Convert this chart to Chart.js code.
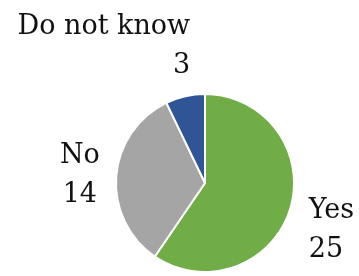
<!DOCTYPE html>
<html>
<head>
<meta charset="utf-8">
<script src="https://cdn.jsdelivr.net/npm/chart.js@4"></script>
<style>
  html, body { margin: 0; padding: 0; background: #fff; }
  #wrap { width: 359px; height: 276px; position: relative; }
</style>
</head>
<body>
<div id="wrap"><canvas id="pieChart"></canvas></div>
<script>
// data
const categories = ['Yes', 'No', 'Do not know'];
const answers = [25, 14, 3];
const sliceColors = ['#70AD47', '#A5A5A5', '#2F5597'];

// where each label sits relative to its slice (distance as a share of radius, extra shift, text alignment)
const labelLayout = {
    'Yes':         { k: 1.22,  dx: 0,  dy: 15, align: 'left'   },
    'No':          { k: 1.41,  dx: 0,  dy: 2,  align: 'center' },
    'Do not know': { k: 1.556, dx: 16, dy: -2, align: 'right'  }
};

const outsideLabels = {
    id: 'outsideLabels',
    afterDatasetsDraw(chart) {
        const ctx = chart.ctx;
        const meta = chart.getDatasetMeta(0);
        ctx.save();
        ctx.font = "27px 'DejaVu Serif'";
        ctx.fillStyle = '#111';
        ctx.textBaseline = 'middle';
        const lineH = 39;
        meta.data.forEach((arc, i) => {
            const name = chart.data.labels[i];
            const lay = labelLayout[name];
            const mid = (arc.startAngle + arc.endAngle) / 2;
            const d = arc.outerRadius * lay.k;
            const x = arc.x + Math.cos(mid) * d + lay.dx;
            const y = arc.y + Math.sin(mid) * d + lay.dy;
            const value = String(chart.data.datasets[0].data[i]);
            ctx.textAlign = lay.align;
            ctx.fillText(name, x, y - lineH / 2);
            ctx.fillText(value, x, y + lineH / 2);
        });
        ctx.restore();
    }
};

const ctx = document.getElementById('pieChart').getContext('2d');
new Chart(ctx, {
    type: 'pie',
    data: {
        labels: categories,
        datasets: [{
            data: answers,
            backgroundColor: sliceColors,
            borderColor: '#ffffff',
            borderWidth: 2
        }]
    },
    options: {
        responsive: true,
        maintainAspectRatio: false,
        animation: false,
        layout: { padding: { top: 93, bottom: 3, left: 115, right: 64 } },
        plugins: {
            legend: { display: false },
            tooltip: { enabled: false }
        }
    },
    plugins: [outsideLabels]
});
</script>
</body>
</html>
